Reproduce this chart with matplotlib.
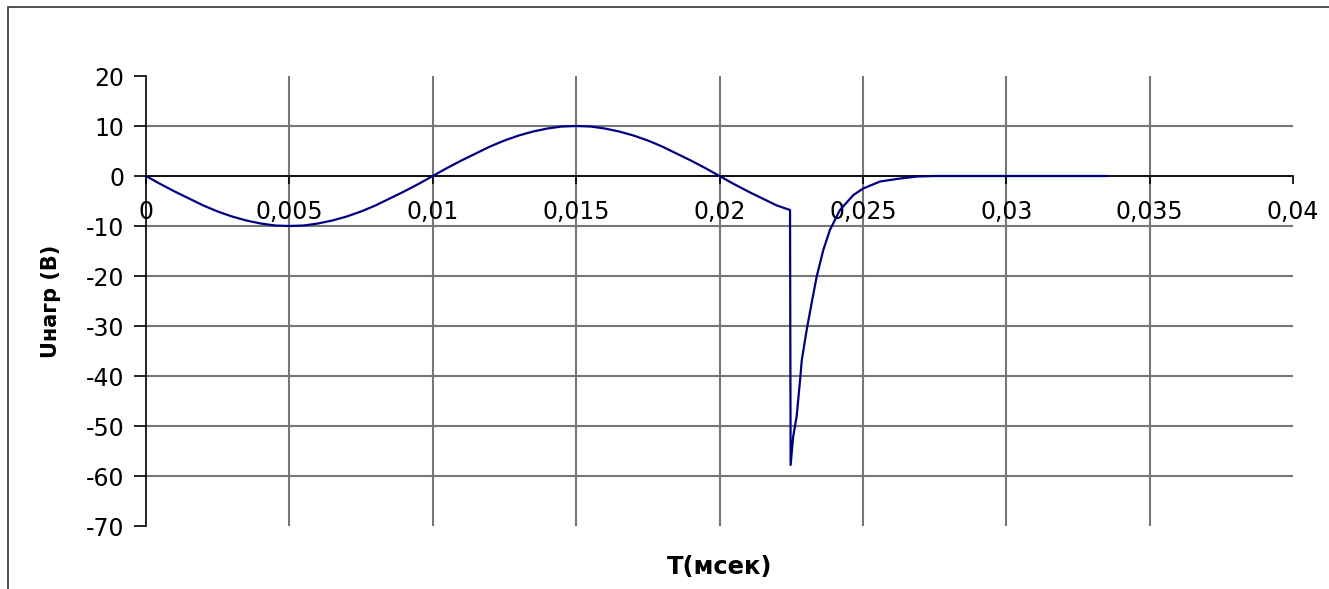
import matplotlib
matplotlib.use('Agg')
import matplotlib.pyplot as plt
from matplotlib.patches import Rectangle

# Напряжение на нагрузке: синусоида до коммутации, затем выброс и спад
t_sec = [0.0, 0.0005, 0.001, 0.0015, 0.002, 0.0025, 0.003, 0.0035, 0.004, 0.0045,
         0.005, 0.0055, 0.006, 0.0065, 0.007, 0.0075, 0.008, 0.0085, 0.009, 0.0095,
         0.01, 0.0105, 0.011, 0.0115, 0.012, 0.0125, 0.013, 0.0135, 0.014, 0.0145,
         0.015, 0.0155, 0.016, 0.0165, 0.017, 0.0175, 0.018, 0.0185, 0.019, 0.0195,
         0.02, 0.0205, 0.021, 0.0215, 0.022, 0.02246,
         0.02248, 0.02257, 0.02269, 0.02281, 0.02287, 0.02304, 0.02321, 0.02339,
         0.02362, 0.02385, 0.0242, 0.02467, 0.02501, 0.0256, 0.0263, 0.0269,
         0.0275, 0.03348]
u_load = [0.0, -1.6, -3.1, -4.5, -5.9, -7.1, -8.1, -8.9, -9.5, -9.9,
          -10.0, -9.9, -9.5, -8.9, -8.1, -7.1, -5.9, -4.5, -3.1, -1.6,
          0.0, 1.6, 3.1, 4.5, 5.9, 7.1, 8.1, 8.9, 9.5, 9.9,
          10.0, 9.9, 9.5, 8.9, 8.1, 7.1, 5.9, 4.5, 3.1, 1.6,
          0.0, -1.6, -3.1, -4.5, -5.9, -6.8,
          -57.8, -52.1, -48.1, -40.8, -36.8, -30.8, -25.5, -20.1,
          -14.8, -10.8, -6.8, -3.8, -2.5, -1.1, -0.5, -0.1,
          0.0, 0.0]

x_ticks = [0, 0.005, 0.01, 0.015, 0.02, 0.025, 0.03, 0.035, 0.04]
x_labels = ['0', '0,005', '0,01', '0,015', '0,02', '0,025', '0,03', '0,035', '0,04']
y_ticks = [20, 10, 0, -10, -20, -30, -40, -50, -60, -70]

W, H = 1329, 589
fig = plt.figure(figsize=(W / 100, H / 100), dpi=100)
ax = fig.add_axes([146 / W, (H - 526) / H, 1147 / W, 450 / H])

# рамка области диаграммы
fig.patches.append(Rectangle((8 / W, -0.2), 1.2, 1.2 - 7 / H, transform=fig.transFigure,
                             fill=False, edgecolor='#333333', linewidth=1.2))

ax.plot(t_sec, u_load, color='#000080', linewidth=1.6, zorder=3)

ax.set_xlim(0, 0.04)
ax.set_ylim(-70, 20)
ax.set_xticks(x_ticks)
ax.set_xticklabels(x_labels)
ax.set_yticks(y_ticks)
ax.set_yticklabels([str(v) for v in y_ticks])

ax.spines['top'].set_visible(False)
ax.spines['right'].set_visible(False)
ax.spines['bottom'].set_position(('data', 0))
for s in ('left', 'bottom'):
    ax.spines[s].set_color('black')
    ax.spines[s].set_linewidth(1.2)

ax.tick_params(axis='y', direction='out', length=8.5, width=1.2, pad=7, labelsize=17)
ax.tick_params(axis='x', direction='out', length=6, width=1.2, pad=11, labelsize=17)

ax.grid(True, color='#767676', linewidth=1.5)
ax.set_axisbelow(True)
for gl in (ax.get_xgridlines()[0], ax.get_xgridlines()[-1],
           ax.get_ygridlines()[0], ax.get_ygridlines()[-1]):
    gl.set_visible(False)

ax.set_xlabel('Т(мсек)', fontsize=17.5, fontweight='bold')
ax.xaxis.set_label_coords(0.5, (526 - 555) / 450)
ax.set_ylabel('Uнагр (В)', fontsize=15, fontweight='bold')
ax.yaxis.set_label_coords((61 - 146) / 1147, 0.5)

fig.savefig('out.png', dpi=100)
